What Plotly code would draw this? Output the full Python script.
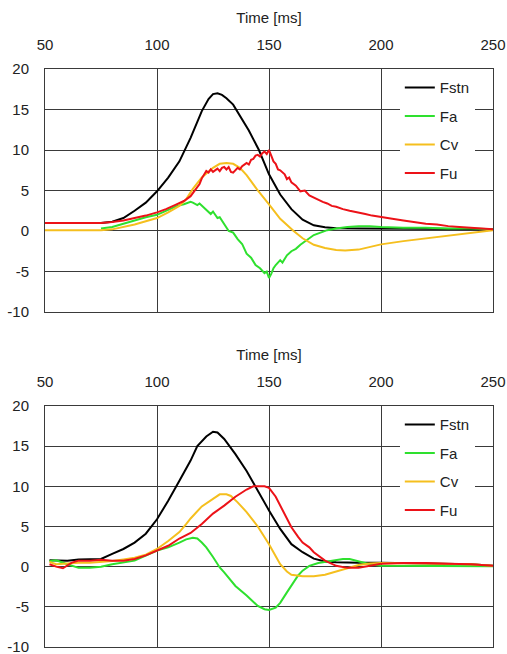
import plotly.graph_objects as go

# ---------------- Top panel data ----------------
top_fstn_x = [73,75,80,85,90,95,100,105,110,115,120,123,125,127,129,131,134,137,141,145.5,150,155,160,165,170,175,180,190,200,220,240,250]
top_fstn_y = [1.0,1.0,1.15,1.6,2.5,3.5,4.9,6.6,8.6,11.5,14.8,16.3,16.9,17.0,16.8,16.4,15.6,14.3,12.4,10.0,7.0,4.5,2.7,1.4,0.7,0.45,0.35,0.3,0.3,0.3,0.25,0.2]

top_fa_x = [75,80,85,90,95,100,103,106,109,112,115,116,118,119,121,122,124,125,127,128,130,132,134,136,138,140,142,144,146,148,149,150,151,152,153,155,156,158,160,162,164,166,168,170,173,176,180,185,190,195,200,210,220,230,240,250]
top_fa_y = [0.3,0.5,0.9,1.3,1.7,2.0,2.4,2.8,3.1,3.3,3.6,3.5,3.2,3.4,2.9,2.6,2.1,2.4,1.6,1.7,0.8,0.0,-0.2,-1.0,-1.6,-2.8,-3.3,-4.2,-4.6,-5.2,-5.0,-5.8,-5.3,-4.6,-4.2,-3.6,-3.9,-3.0,-2.5,-2.2,-1.7,-1.3,-0.9,-0.5,-0.2,0.1,0.3,0.5,0.6,0.6,0.5,0.4,0.4,0.3,0.3,0.2]

top_cv_x = [50,75,80,85,90,95,100,105,110,113,116,120,125,128,131,134,137,140,145,150,155,161,165,170,175,180,184,190,200,210,224,240,250]
top_cv_y = [0.1,0.1,0.2,0.5,0.8,1.2,1.6,2.3,3.1,3.9,5.2,6.6,7.8,8.3,8.4,8.3,7.8,6.9,5.0,3.3,1.5,0.0,-0.9,-1.7,-2.1,-2.35,-2.4,-2.3,-1.65,-1.25,-0.8,-0.3,0.1]

top_fu_x = [50,75,80,85,90,95,100,104,108,112,115,117,119,120,121,122,123,124,125,126,127,128,129,130,131,132,133,134,135,136,137,138,139,140,141,142,143,144,145,146,147,148,149,150,151,152,153,154,155,156,157,158,159,160,162,164,166,168,170,172,174,176,178,180,183,186,190,193,196,200,205,210,215,220,225,230,235,240,245,250]
top_fu_y = [1.0,1.0,1.1,1.3,1.6,1.9,2.3,2.7,3.2,3.7,4.3,5.0,5.8,6.5,7.0,7.4,7.2,7.6,7.3,7.5,7.7,7.4,7.8,7.9,7.6,7.9,7.3,7.2,7.5,7.8,7.6,8.0,8.2,8.4,8.2,8.8,8.9,9.3,9.4,9.2,9.6,9.8,9.5,10.0,9.3,8.6,8.3,7.6,7.5,7.2,7.0,6.4,6.6,6.0,5.6,4.9,5.0,4.4,4.1,3.8,3.6,3.4,3.1,3.0,2.7,2.5,2.3,2.1,1.9,1.7,1.5,1.3,1.1,0.9,0.8,0.6,0.5,0.4,0.3,0.2]

# ---------------- Bottom panel data ----------------
bot_fstn_x = [52,60,65,75,80,85,90,95,100,105,110,115,118,122,125,127,130,135,140,145,150,155,160,165,170,175,180,190,200,220,240,250]
bot_fstn_y = [0.8,0.75,0.9,0.95,1.6,2.2,3.0,4.1,5.9,8.2,10.7,13.2,15.0,16.2,16.8,16.7,15.9,14.0,11.9,9.4,7.0,4.7,2.8,1.8,1.0,0.65,0.55,0.5,0.5,0.4,0.3,0.1]

bot_fa_x = [52,55,60,65,70,75,80,90,100,105,110,113,116,118,120,122,125,128,130,135,140,145,148,150,153,155,158,160,163,165,168,172,178,183,186,190,195,200,220,250]
bot_fa_y = [0.7,0.8,0.3,-0.15,-0.15,0.0,0.3,0.75,2.0,2.4,3.0,3.4,3.6,3.5,3.0,2.4,1.2,-0.1,-0.7,-2.4,-3.6,-4.9,-5.3,-5.4,-5.1,-4.5,-3.2,-2.4,-1.1,-0.5,0.1,0.45,0.75,0.95,0.95,0.65,0.3,0.1,0.1,0.05]

bot_cv_x = [52,55,60,65,70,75,80,85,90,95,100,105,110,113,115,120,125,128,131,133,136,140,145,150,153,155,158,160,165,170,175,180,185,190,195,200,220,240,250]
bot_cv_y = [0.6,0.3,0.4,0.5,0.5,0.6,0.7,0.9,1.1,1.5,2.2,3.2,4.3,5.3,6.0,7.5,8.5,9.0,9.0,8.8,8.0,6.8,5.0,2.8,1.3,0.3,-0.6,-1.0,-1.2,-1.2,-1.0,-0.6,-0.2,0.2,0.4,0.45,0.4,0.3,0.1]

bot_fu_x = [52,55,58,60,62,65,70,75,80,85,90,95,100,105,110,115,120,125,130,135,140,143,148,150,153,155,158,160,163,165,168,170,175,180,185,190,195,200,210,220,230,240,250]
bot_fu_y = [0.3,0.0,-0.2,0.1,0.5,0.75,0.75,0.85,0.75,0.75,0.95,1.4,2.0,2.6,3.5,4.2,5.3,6.6,7.6,8.7,9.6,10.0,10.0,9.8,8.7,7.6,6.0,4.9,3.7,3.0,2.4,1.8,0.75,0.1,-0.15,-0.15,0.1,0.35,0.45,0.45,0.35,0.3,0.1]

x_ticks = [50, 100, 150, 200, 250]
y_ticks = [-10, -5, 0, 5, 10, 15, 20]
y_tick_labels = ["-10", "-5", "0", "5", "10", "15", "20"]
names = ["Fstn", "Fa", "Cv", "Fu"]
colors = ["#000000", "#2ee02e", "#f5bf1e", "#ec1218"]

top_series = [(top_fstn_x, top_fstn_y), (top_fa_x, top_fa_y), (top_cv_x, top_cv_y), (top_fu_x, top_fu_y)]
bot_series = [(bot_fstn_x, bot_fstn_y), (bot_fa_x, bot_fa_y), (bot_cv_x, bot_cv_y), (bot_fu_x, bot_fu_y)]

fig = go.Figure()
for i, (x, y) in enumerate(top_series):
    fig.add_trace(go.Scatter(x=x, y=y, mode="lines", name=names[i],
                             line=dict(color=colors[i], width=2),
                             xaxis="x", yaxis="y", legend="legend",
                             legendgroup="t" + names[i]))
for i, (x, y) in enumerate(bot_series):
    fig.add_trace(go.Scatter(x=x, y=y, mode="lines", name=names[i],
                             line=dict(color=colors[i], width=2),
                             xaxis="x2", yaxis="y2", legend="legend2",
                             legendgroup="b" + names[i]))

font = "Liberation Sans, Arial, sans-serif"
tickfont = dict(family=font, size=15, color="#222")
grid = "#3a3a3a"

xcommon = dict(range=[50, 250], tickvals=x_ticks, side="top", automargin=False,
               showgrid=True, gridcolor=grid, gridwidth=1, zeroline=False,
               showline=True, linecolor=grid, linewidth=1, mirror=True,
               tickfont=tickfont, ticks="", ticklabelstandoff=12, ticklabeloverflow="allow",
               title=dict(text="Time [ms]", font=dict(family=font, size=15, color="#222"), standoff=8))
ycommon = dict(range=[-10, 20], tickvals=y_ticks, ticktext=y_tick_labels, automargin=False,
               showgrid=True, gridcolor=grid, gridwidth=1, zeroline=False,
               showline=True, linecolor=grid, linewidth=1, mirror=True,
               tickfont=tickfont, ticks="", ticklabelstandoff=12, ticklabeloverflow="allow")

fig.update_layout(
    width=507, height=654,
    margin=dict(l=45, r=14, t=69, b=7),
    paper_bgcolor="white", plot_bgcolor="white",
    xaxis=dict(domain=[0, 1], anchor="y", **xcommon),
    yaxis=dict(domain=[0.5796, 1.0], anchor="x", **ycommon),
    xaxis2=dict(domain=[0, 1], anchor="y2", **xcommon),
    yaxis2=dict(domain=[0.0, 0.4170], anchor="x2", **ycommon),
    legend=dict(x=0.792, y=0.996, xanchor="left", yanchor="top", bgcolor="white",
                font=dict(family=font, size=15, color="#222"), tracegroupgap=6),
    legend2=dict(x=0.792, y=0.413, xanchor="left", yanchor="top", bgcolor="white",
                 font=dict(family=font, size=15, color="#222"), tracegroupgap=6),
)

fig.write_html("out.html", config={"displayModeBar": False},
               post_script="document.body.style.margin='0';document.body.style.overflow='hidden';")
